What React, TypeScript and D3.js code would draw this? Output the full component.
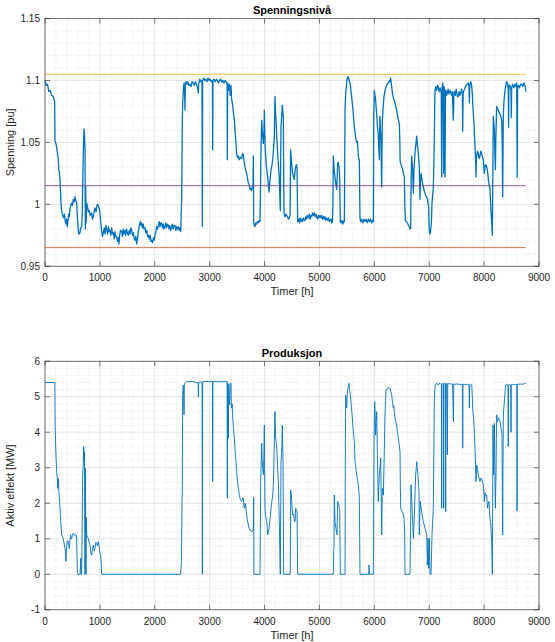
import React from "react";
import * as d3 from "d3";

// ---------- DATA ----------
const xTicks = [0, 1000, 2000, 3000, 4000, 5000, 6000, 7000, 8000, 9000];
const voltageTicks = [0.95, 1.0, 1.05, 1.1, 1.15];
const voltageTickLabels = ["0.95", "1", "1.05", "1.1", "1.15"];
const powerTicks = [-1, 0, 1, 2, 3, 4, 5, 6];

const upperLimit = 1.105;
const midLevel = 1.015;
const lowerLimit = 0.965;
const limitSpan = [0, 8760];

const voltagePoints: [number, number][] = [
[0,1.100],[20,1.096],[45,1.097],[70,1.091],[95,1.092],[120,1.088],[150,1.087],[175,1.083],[182,1.051],[200,1.049],[213,1.046],[230,1.040],[243,1.036],[250,1.028],[262,1.026],[273,1.020],[285,1.008],[292,1.001],[300,0.996],[310,0.993],[325,0.991],[340,0.989],[355,0.992],[370,0.986],[383,0.984],[395,0.988],[407,0.982],[420,0.987],[430,0.992],[443,0.990],[455,0.996],[470,0.999],[486,1.001],[500,0.999],[516,1.004],[530,1.002],[547,1.006],[560,1.003],[577,1.001],[590,0.990],[607,0.979],[620,0.976],[638,0.977],[650,0.981],[668,0.982],[680,0.995],[686,1.014],[700,1.045],[711,1.061],[720,1.055],[729,1.045],[735,0.980],[741,1.014],[750,0.985],[759,1.001],[775,0.998],[790,0.994],[808,0.995],[825,0.991],[850,0.993],[865,0.988],[881,0.990],[895,0.994],[911,0.997],[930,0.994],[950,1.000],[972,0.999],[990,0.996],[1002,0.993],[1015,0.985],[1032,0.979],[1045,0.974],[1063,0.977],[1080,0.981],[1095,0.976],[1110,0.983],[1124,0.980],[1140,0.976],[1155,0.982],[1170,0.978],[1184,0.979],[1200,0.975],[1215,0.981],[1230,0.976],[1245,0.977],[1260,0.972],[1275,0.978],[1290,0.974],[1306,0.974],[1320,0.970],[1335,0.973],[1348,0.968],[1360,0.975],[1375,0.979],[1397,0.978],[1410,0.974],[1425,0.980],[1440,0.976],[1458,0.979],[1470,0.975],[1485,0.980],[1500,0.977],[1518,0.975],[1535,0.979],[1550,0.976],[1565,0.981],[1579,0.979],[1595,0.975],[1610,0.977],[1625,0.972],[1640,0.971],[1655,0.974],[1670,0.968],[1685,0.972],[1700,0.978],[1719,0.983],[1735,0.986],[1750,0.983],[1761,0.985],[1775,0.981],[1790,0.984],[1805,0.980],[1822,0.981],[1840,0.977],[1855,0.979],[1870,0.974],[1883,0.975],[1900,0.972],[1915,0.975],[1930,0.970],[1943,0.971],[1960,0.969],[1975,0.973],[1990,0.971],[2004,0.975],[2020,0.978],[2035,0.982],[2050,0.980],[2065,0.983],[2080,0.986],[2095,0.982],[2110,0.985],[2126,0.985],[2140,0.981],[2155,0.984],[2170,0.980],[2186,0.982],[2200,0.985],[2215,0.981],[2230,0.984],[2247,0.983],[2260,0.980],[2275,0.983],[2290,0.979],[2308,0.982],[2320,0.984],[2335,0.980],[2350,0.983],[2369,0.983],[2385,0.979],[2400,0.982],[2415,0.980],[2429,0.982],[2445,0.979],[2460,0.981],[2472,0.978],[2480,0.990],[2490,1.004],[2495,1.030],[2500,1.060],[2508,1.082],[2520,1.092],[2533,1.098],[2540,1.095],[2551,1.076],[2556,1.096],[2570,1.099],[2581,1.097],[2600,1.099],[2620,1.096],[2642,1.097],[2660,1.095],[2680,1.099],[2703,1.098],[2720,1.096],[2740,1.099],[2760,1.097],[2780,1.094],[2794,1.090],[2800,1.097],[2820,1.101],[2840,1.099],[2860,1.100],[2867,0.982],[2872,1.100],[2890,1.102],[2910,1.100],[2930,1.101],[2950,1.099],[2970,1.102],[2990,1.100],[3010,1.101],[3030,1.099],[3050,1.100],[3055,1.044],[3060,1.100],[3080,1.101],[3100,1.099],[3120,1.101],[3140,1.100],[3160,1.098],[3180,1.100],[3200,1.101],[3220,1.099],[3240,1.100],[3260,1.098],[3280,1.100],[3300,1.099],[3318,1.097],[3322,1.036],[3328,1.098],[3345,1.092],[3360,1.097],[3375,1.088],[3389,1.096],[3400,1.085],[3413,1.082],[3430,1.075],[3450,1.068],[3470,1.055],[3492,1.041],[3505,1.038],[3522,1.039],[3540,1.036],[3560,1.038],[3583,1.037],[3600,1.041],[3614,1.040],[3630,1.034],[3644,1.030],[3660,1.027],[3674,1.025],[3690,1.021],[3705,1.017],[3720,1.016],[3735,1.012],[3747,1.013],[3765,1.011],[3777,1.014],[3790,1.016],[3796,1.039],[3802,0.985],[3815,0.983],[3826,0.982],[3840,0.985],[3855,0.984],[3870,0.986],[3887,0.985],[3900,0.987],[3917,0.986],[3925,1.010],[3935,1.044],[3948,1.068],[3960,1.058],[3978,1.049],[3990,1.060],[3996,1.076],[4008,1.050],[4020,1.039],[4035,1.030],[4057,1.022],[4070,1.015],[4081,1.010],[4095,1.018],[4118,1.028],[4133,1.031],[4148,1.036],[4160,1.042],[4178,1.055],[4190,1.087],[4200,1.075],[4209,1.068],[4225,1.052],[4239,1.041],[4255,1.030],[4269,1.020],[4280,1.005],[4287,0.995],[4293,1.030],[4300,1.063],[4312,1.072],[4324,1.080],[4334,1.074],[4342,1.071],[4348,1.030],[4354,0.993],[4365,0.991],[4373,0.990],[4388,0.992],[4403,0.991],[4420,0.990],[4435,0.988],[4452,0.989],[4465,0.991],[4476,1.044],[4490,1.035],[4500,1.030],[4512,1.025],[4530,1.022],[4543,1.020],[4555,1.027],[4567,1.030],[4580,1.032],[4591,1.029],[4597,1.010],[4603,0.986],[4620,0.988],[4635,0.985],[4646,0.989],[4660,0.986],[4675,0.988],[4689,0.986],[4705,0.989],[4720,0.987],[4737,0.987],[4750,0.990],[4765,0.988],[4780,0.991],[4798,0.989],[4815,0.992],[4830,0.988],[4845,0.991],[4859,0.990],[4875,0.993],[4890,0.991],[4907,0.993],[4920,0.990],[4935,0.992],[4950,0.990],[4965,0.988],[4980,0.991],[4995,0.989],[5010,0.991],[5025,0.989],[5040,0.991],[5055,0.988],[5071,0.990],[5085,0.988],[5100,0.990],[5115,0.987],[5132,0.989],[5150,0.987],[5165,0.989],[5180,0.986],[5193,0.987],[5210,0.988],[5225,0.985],[5235,0.986],[5245,1.000],[5253,1.039],[5265,1.030],[5275,1.025],[5284,1.022],[5300,1.016],[5314,1.012],[5322,1.020],[5332,1.033],[5345,1.034],[5356,1.030],[5364,1.026],[5369,1.020],[5375,1.000],[5381,0.986],[5395,0.985],[5410,0.987],[5425,0.984],[5435,0.985],[5448,0.987],[5454,0.986],[5460,1.030],[5466,1.076],[5478,1.090],[5490,1.095],[5500,1.100],[5515,1.103],[5527,1.103],[5540,1.100],[5557,1.098],[5570,1.093],[5587,1.087],[5600,1.081],[5618,1.073],[5630,1.065],[5648,1.058],[5666,1.052],[5678,1.050],[5691,1.051],[5700,1.045],[5709,1.039],[5720,1.036],[5727,1.036],[5733,1.010],[5739,0.989],[5751,0.986],[5770,0.988],[5790,0.985],[5810,0.988],[5830,0.986],[5850,0.988],[5870,0.985],[5890,0.988],[5910,0.986],[5930,0.988],[5950,0.985],[5970,0.987],[5982,0.986],[5988,1.068],[6000,1.092],[6010,1.088],[6018,1.087],[6030,1.080],[6043,1.073],[6055,1.064],[6073,1.055],[6082,1.045],[6091,1.036],[6097,1.060],[6103,1.071],[6112,1.060],[6122,1.052],[6128,1.030],[6134,1.014],[6140,1.045],[6146,1.068],[6160,1.078],[6176,1.087],[6195,1.092],[6213,1.095],[6230,1.097],[6255,1.098],[6275,1.100],[6290,1.099],[6298,1.102],[6308,1.098],[6316,1.095],[6330,1.090],[6346,1.086],[6360,1.084],[6377,1.082],[6390,1.079],[6407,1.076],[6425,1.071],[6440,1.068],[6456,1.065],[6465,1.050],[6470,1.035],[6480,1.033],[6495,1.031],[6517,1.028],[6530,1.025],[6547,1.022],[6555,1.000],[6565,0.987],[6580,0.986],[6602,0.985],[6620,0.983],[6638,0.982],[6650,0.980],[6662,0.981],[6668,1.010],[6675,1.030],[6680,1.039],[6690,1.032],[6699,1.028],[6705,1.015],[6711,1.009],[6717,1.020],[6723,1.028],[6735,1.038],[6745,1.044],[6753,1.047],[6765,1.052],[6772,1.055],[6785,1.048],[6802,1.041],[6812,1.036],[6820,1.030],[6826,1.015],[6832,1.004],[6840,1.018],[6851,1.025],[6870,1.019],[6893,1.014],[6908,1.011],[6923,1.009],[6945,1.006],[6966,1.005],[6978,1.001],[6990,0.998],[6996,0.985],[7002,0.979],[7010,0.976],[7021,0.977],[7030,0.981],[7039,0.985],[7045,0.993],[7051,1.001],[7063,1.008],[7075,1.013],[7085,1.035],[7093,1.055],[7100,1.080],[7106,1.092],[7120,1.095],[7136,1.092],[7150,1.096],[7166,1.095],[7180,1.091],[7200,1.094],[7209,1.092],[7220,1.090],[7227,1.022],[7235,1.094],[7245,1.098],[7255,1.093],[7263,1.025],[7270,1.095],[7280,1.092],[7288,1.022],[7296,1.092],[7306,1.092],[7318,1.088],[7330,1.090],[7345,1.093],[7360,1.089],[7379,1.092],[7395,1.090],[7409,1.088],[7420,1.091],[7440,1.068],[7450,1.090],[7458,1.091],[7475,1.088],[7490,1.093],[7500,1.091],[7515,1.087],[7530,1.087],[7545,1.091],[7560,1.088],[7573,1.090],[7590,1.093],[7605,1.089],[7610,1.059],[7618,1.090],[7634,1.092],[7650,1.094],[7670,1.096],[7690,1.097],[7713,1.098],[7725,1.095],[7731,1.082],[7740,1.096],[7755,1.099],[7770,1.097],[7785,1.090],[7792,1.082],[7805,1.072],[7816,1.065],[7825,1.055],[7834,1.047],[7845,1.035],[7852,1.022],[7858,1.035],[7865,1.039],[7880,1.043],[7895,1.041],[7910,1.037],[7925,1.039],[7940,1.043],[7956,1.041],[7970,1.038],[7986,1.036],[7995,1.030],[8004,1.025],[8020,1.031],[8035,1.032],[8047,1.030],[8059,1.028],[8070,1.024],[8077,1.020],[8090,1.016],[8107,1.012],[8120,1.000],[8132,0.990],[8142,0.982],[8150,0.975],[8158,1.020],[8168,1.071],[8178,1.065],[8187,1.060],[8197,1.040],[8205,1.028],[8215,1.055],[8229,1.079],[8245,1.077],[8259,1.076],[8275,1.074],[8290,1.073],[8305,1.071],[8320,1.068],[8330,1.050],[8338,1.006],[8344,1.040],[8350,1.073],[8365,1.085],[8381,1.092],[8395,1.096],[8411,1.099],[8430,1.097],[8440,1.093],[8446,1.062],[8452,1.096],[8472,1.096],[8490,1.092],[8495,1.070],[8502,1.094],[8520,1.097],[8540,1.094],[8560,1.097],[8580,1.095],[8594,1.098],[8602,1.022],[8610,1.095],[8625,1.096],[8645,1.094],[8665,1.097],[8685,1.097],[8705,1.095],[8725,1.098],[8745,1.096],[8760,1.091]
];

const powerPoints: [number, number][] = [
[0,5.40],[180,5.40],[185,4.20],[195,3.55],[213,2.89],[225,2.70],[231,2.42],[243,2.70],[255,2.30],[273,1.86],[290,1.40],[304,1.11],[320,1.05],[334,1.01],[350,0.85],[364,0.73],[372,0.60],[383,0.36],[395,0.82],[410,0.95],[425,0.92],[435,0.80],[443,0.73],[455,0.95],[468,1.11],[478,1.00],[486,1.01],[500,1.10],[516,1.15],[530,1.10],[547,1.11],[565,1.11],[575,1.05],[589,0.07],[600,0],[640,0],[650,0.45],[660,0],[668,0],[680,1.80],[686,2.80],[695,3.00],[705,3.60],[712,3.20],[717,3.45],[722,2.50],[729,0],[735,2.98],[741,1.50],[747,0],[753,1.60],[759,1.11],[775,1.05],[790,1.01],[805,0.90],[820,0.82],[835,0.60],[850,0.54],[865,0.70],[881,0.82],[895,0.65],[911,0.73],[925,0.90],[941,0.87],[955,0.80],[972,0.92],[980,0.85],[990,0.73],[1000,0.60],[1014,0.54],[1025,0.30],[1032,0],[2472,0],[2484,0.30],[2490,0.92],[2496,2.10],[2502,2.33],[2505,4.00],[2508,5.05],[2514,5.20],[2520,5.33],[2526,5.00],[2533,4.49],[2539,5.30],[2545,5.38],[2560,5.41],[2581,5.43],[2620,5.42],[2680,5.43],[2740,5.41],[2770,5.40],[2790,5.38],[2794,5.00],[2800,5.40],[2830,5.41],[2862,5.42],[2867,0],[2872,5.41],[2900,5.43],[2950,5.43],[3000,5.42],[3050,5.43],[3055,2.61],[3060,5.43],[3100,5.43],[3150,5.42],[3200,5.43],[3250,5.42],[3300,5.43],[3318,5.42],[3322,2.14],[3328,5.40],[3340,3.83],[3346,5.35],[3365,4.77],[3375,5.38],[3389,5.38],[3395,4.70],[3401,4.68],[3410,4.80],[3420,4.40],[3431,4.20],[3445,3.90],[3462,3.55],[3478,3.20],[3492,2.89],[3508,2.60],[3522,2.42],[3538,2.25],[3553,2.14],[3568,2.10],[3583,2.05],[3600,2.15],[3614,2.14],[3622,1.95],[3632,1.86],[3645,2.00],[3656,1.95],[3665,1.80],[3674,1.67],[3690,1.50],[3705,1.39],[3720,1.30],[3735,1.25],[3755,1.22],[3777,1.20],[3795,1.25],[3802,2.17],[3806,0],[3917,0],[3923,1.20],[3929,2.61],[3940,3.20],[3948,3.69],[3957,3.20],[3966,2.98],[3980,2.80],[3990,3.50],[3996,4.20],[4002,3.00],[4008,1.86],[4025,1.60],[4039,1.48],[4050,1.25],[4057,1.11],[4070,1.20],[4081,1.30],[4100,1.55],[4118,1.86],[4133,2.05],[4148,2.23],[4160,2.50],[4166,2.80],[4172,3.30],[4178,3.74],[4185,4.20],[4190,4.58],[4200,3.90],[4210,3.70],[4221,3.64],[4235,3.10],[4251,2.61],[4260,2.00],[4269,1.48],[4278,0.70],[4287,0],[4293,1.50],[4300,3.17],[4310,3.40],[4318,3.80],[4324,4.20],[4330,3.60],[4336,3.27],[4343,1.50],[4348,0],[4468,0],[4476,2.37],[4490,2.23],[4500,1.90],[4512,1.67],[4530,1.70],[4545,1.50],[4555,1.48],[4562,1.70],[4567,1.86],[4580,1.80],[4591,1.76],[4597,1.00],[4603,0],[5253,0],[5260,0.70],[5265,0.73],[5271,2.23],[5278,1.80],[5284,1.48],[5300,1.30],[5310,1.20],[5320,1.11],[5326,1.60],[5332,2.05],[5345,2.00],[5356,1.95],[5369,1.76],[5375,0.80],[5381,0],[5466,0],[5472,3.50],[5478,5.05],[5487,4.90],[5496,4.68],[5505,5.00],[5514,5.19],[5528,5.30],[5539,5.38],[5550,5.20],[5563,5.05],[5580,4.75],[5600,4.39],[5618,4.00],[5636,3.74],[5648,3.17],[5663,3.00],[5678,2.80],[5694,2.65],[5709,2.52],[5720,2.30],[5727,2.14],[5733,1.00],[5739,0],[5898,0],[5903,0.26],[5908,0],[5982,0],[5988,2.00],[5994,3.64],[6000,4.40],[6006,4.86],[6015,4.50],[6024,3.92],[6033,4.30],[6043,4.58],[6049,4.00],[6055,3.45],[6064,2.70],[6073,2.05],[6082,2.50],[6091,2.80],[6103,3.00],[6116,3.27],[6125,2.20],[6134,1.11],[6140,1.80],[6146,2.42],[6155,2.35],[6164,2.23],[6172,2.80],[6183,3.55],[6189,4.10],[6195,4.58],[6205,4.90],[6213,5.19],[6237,5.24],[6260,5.24],[6286,5.24],[6300,5.15],[6316,5.05],[6330,4.85],[6346,4.68],[6355,4.75],[6362,4.60],[6377,4.39],[6390,4.30],[6407,4.20],[6420,4.00],[6438,3.83],[6452,3.65],[6468,3.45],[6474,2.50],[6480,1.86],[6495,1.80],[6511,1.76],[6525,1.70],[6541,1.58],[6552,1.20],[6559,0],[6650,0],[6660,1.20],[6668,2.52],[6677,2.20],[6686,1.95],[6698,1.50],[6711,1.01],[6720,1.30],[6729,1.67],[6740,2.20],[6753,2.80],[6765,3.00],[6772,3.17],[6780,3.00],[6790,2.89],[6802,2.60],[6814,2.33],[6820,1.11],[6828,1.60],[6838,2.05],[6850,1.90],[6863,1.76],[6878,1.60],[6893,1.48],[6908,1.40],[6923,1.30],[6940,1.20],[6954,1.11],[6960,0.80],[6966,0.26],[6972,0.70],[6978,1.01],[6984,0.60],[6990,0.17],[6996,0.60],[7002,1.01],[7008,0.40],[7015,0],[7033,0],[7042,0.60],[7051,1.11],[7063,1.50],[7075,1.86],[7085,3.50],[7093,4.91],[7100,5.20],[7112,5.33],[7136,5.38],[7150,5.35],[7166,5.33],[7180,5.37],[7197,5.38],[7210,5.36],[7222,5.35],[7227,1.86],[7232,5.36],[7245,5.38],[7258,5.37],[7263,1.86],[7268,5.36],[7280,5.38],[7295,5.37],[7300,1.76],[7305,5.36],[7318,5.37],[7330,3.36],[7337,5.37],[7360,5.36],[7385,5.37],[7409,5.35],[7425,5.36],[7440,4.30],[7448,5.36],[7470,5.35],[7500,5.36],[7530,5.35],[7560,5.35],[7590,5.34],[7605,5.35],[7610,3.55],[7615,5.35],[7640,5.34],[7670,5.35],[7700,5.34],[7713,5.35],[7725,5.30],[7731,4.68],[7738,5.34],[7755,5.35],[7775,5.33],[7785,5.00],[7792,4.68],[7805,4.45],[7816,4.20],[7825,3.90],[7834,3.55],[7845,3.00],[7852,2.61],[7858,2.80],[7865,3.08],[7880,2.95],[7895,2.80],[7910,2.70],[7925,2.61],[7940,2.70],[7956,2.70],[7970,2.60],[7986,2.52],[7995,2.30],[8004,2.05],[8020,2.30],[8035,2.20],[8047,2.23],[8055,2.00],[8065,1.86],[8077,2.00],[8089,2.05],[8098,1.80],[8107,1.58],[8118,1.45],[8126,1.30],[8132,1.10],[8138,0.92],[8144,0.50],[8150,0],[8156,2.00],[8162,4.20],[8168,3.40],[8174,2.80],[8180,3.60],[8187,4.25],[8195,3.00],[8205,1.86],[8211,2.40],[8217,2.80],[8223,3.80],[8229,4.49],[8240,4.35],[8247,4.30],[8260,4.40],[8272,4.39],[8280,4.35],[8290,4.30],[8300,4.20],[8308,4.11],[8318,4.00],[8326,3.92],[8332,2.50],[8338,1.11],[8344,3.00],[8350,4.49],[8360,4.70],[8369,4.86],[8380,5.10],[8393,5.33],[8410,5.34],[8425,5.33],[8436,5.34],[8440,3.60],[8444,5.33],[8460,5.34],[8485,5.33],[8490,4.00],[8495,5.34],[8520,5.34],[8545,5.35],[8570,5.34],[8595,5.35],[8600,1.78],[8605,5.35],[8630,5.35],[8660,5.36],[8690,5.35],[8720,5.36],[8745,5.37],[8760,5.37]
];

// ---------- STYLE ----------
const W = 555;
const H = 642;
const FONT = "Arial, 'Liberation Sans', Helvetica, sans-serif";
const AX = "#262626";
const LINE = "#0072BD";

const left = 45;
const right = 539;

interface PanelProps {
  top: number;
  bottom: number;
  domain: [number, number];
  ticks: number[];
  tickLabels: string[];
  minorStep: number;
  title: string;
  ylabel: string;
  points: [number, number][];
  lineWidth: number;
  refLines?: { y: number; color: string }[];
}

function Panel(p: PanelProps) {
  const x = d3.scaleLinear().domain([0, 9000]).range([left, right]);
  const y = d3.scaleLinear().domain(p.domain).range([p.bottom, p.top]);
  const minorX = d3.range(0, 9000 + 1, 200).filter((v) => v % 1000 !== 0);
  const nMinorY = Math.round((p.domain[1] - p.domain[0]) / p.minorStep);
  const minorY = d3
    .range(0, nMinorY + 1)
    .map((i) => p.domain[0] + i * p.minorStep)
    .filter((v) => !p.ticks.some((t) => Math.abs(t - v) < 1e-9));
  const line = d3
    .line<[number, number]>()
    .x((d) => x(d[0]))
    .y((d) => y(d[1]));
  const tl = 5;
  const midY = (p.top + p.bottom) / 2;
  return (
    <g>
      <rect x={left} y={p.top} width={right - left} height={p.bottom - p.top} fill="#fff" />
      {minorX.map((v) => (
        <line key={"mx" + v} x1={x(v)} x2={x(v)} y1={p.top} y2={p.bottom} stroke="#e4e4e4" strokeWidth={0.7} strokeDasharray="1,1" />
      ))}
      {minorY.map((v, i) => (
        <line key={"my" + i} x1={left} x2={right} y1={y(v)} y2={y(v)} stroke="#e4e4e4" strokeWidth={0.7} strokeDasharray="1,1" />
      ))}
      {xTicks.map((v) => (
        <line key={"gx" + v} x1={x(v)} x2={x(v)} y1={p.top} y2={p.bottom} stroke="#dcdcdc" strokeWidth={0.8} />
      ))}
      {p.ticks.map((v) => (
        <line key={"gy" + v} x1={left} x2={right} y1={y(v)} y2={y(v)} stroke="#dcdcdc" strokeWidth={0.8} />
      ))}
      <path d={line(p.points) || ""} fill="none" stroke={LINE} strokeWidth={p.lineWidth} strokeLinejoin="round" />
      {(p.refLines || []).map((r, i) => (
        <line key={"r" + i} x1={x(limitSpan[0])} x2={x(limitSpan[1])} y1={y(r.y)} y2={y(r.y)} stroke={r.color} strokeWidth={0.8} />
      ))}
      <rect x={left} y={p.top} width={right - left} height={p.bottom - p.top} fill="none" stroke={AX} strokeWidth={0.6} />
      {xTicks.map((v) => (
        <g key={"tx" + v}>
          <line x1={x(v)} x2={x(v)} y1={p.bottom} y2={p.bottom - tl} stroke={AX} strokeWidth={0.6} />
          <line x1={x(v)} x2={x(v)} y1={p.top} y2={p.top + tl} stroke={AX} strokeWidth={0.6} />
          <text x={x(v)} y={p.bottom + 15} textAnchor="middle" fontSize={10} fill={AX} fontFamily={FONT}>
            {v}
          </text>
        </g>
      ))}
      {p.ticks.map((v, i) => (
        <g key={"ty" + v}>
          <line x1={left} x2={left + tl} y1={y(v)} y2={y(v)} stroke={AX} strokeWidth={0.6} />
          <line x1={right} x2={right - tl} y1={y(v)} y2={y(v)} stroke={AX} strokeWidth={0.6} />
          <text x={left - 5} y={y(v) + 3.5} textAnchor="end" fontSize={10} fill={AX} fontFamily={FONT}>
            {p.tickLabels[i]}
          </text>
        </g>
      ))}
      <text x={(left + right) / 2} y={p.top - 4.5} textAnchor="middle" fontSize={11} fontWeight="bold" fill="#000" fontFamily={FONT}>
        {p.title}
      </text>
      <text x={(left + right) / 2} y={p.bottom + 29} textAnchor="middle" fontSize={11} fill={AX} fontFamily={FONT}>
        Timer [h]
      </text>
      <text transform={`translate(14,${midY}) rotate(-90)`} textAnchor="middle" fontSize={11} fill={AX} fontFamily={FONT}>
        {p.ylabel}
      </text>
    </g>
  );
}

export default function App() {
  return (
    <svg width={W} height={H} style={{ position: "absolute", left: 0, top: 0, background: "#fff" }}>
      <rect x={0} y={0} width={W} height={H} fill="#fff" />
      <Panel
        top={18.6}
        bottom={266.2}
        domain={[0.95, 1.15]}
        ticks={voltageTicks}
        tickLabels={voltageTickLabels}
        minorStep={0.01}
        title="Spenningsnivå"
        ylabel="Spenning [pu]"
        points={voltagePoints}
        lineWidth={1.3}
        refLines={[
          { y: upperLimit, color: "#EDB120" },
          { y: midLevel, color: "#7E2F8E" },
          { y: lowerLimit, color: "#D95319" },
        ]}
      />
      <Panel
        top={361.2}
        bottom={609.8}
        domain={[-1, 6]}
        ticks={powerTicks}
        tickLabels={powerTicks.map(String)}
        minorStep={0.2}
        title="Produksjon"
        ylabel="Aktiv effekt [MW]"
        points={powerPoints}
        lineWidth={0.9}
      />
    </svg>
  );
}
